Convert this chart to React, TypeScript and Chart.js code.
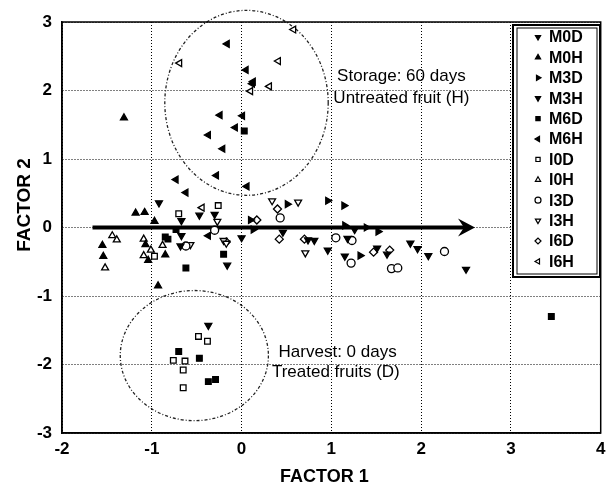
import { useEffect, useRef } from 'react';
import { Chart, registerables } from 'chart.js';
import { drawPoint } from 'chart.js/helpers';

Chart.register(...registerables);

const FONT = '"Liberation Sans", Arial, Helvetica, sans-serif';

// ---- data ----
const seriesNames = ['M0D', 'M0H', 'M3D', 'M3H', 'M6D', 'M6H', 'I0D', 'I0H', 'I3D', 'I3H', 'I6D', 'I6H'];

const M0D: number[][] = [[-0.92, 0.36], [-0.67, 0.10], [-0.67, -0.12], [-0.47, 0.18], [-0.30, 0.19], [-0.68, -0.27], [-0.16, -0.55], [-0.37, -1.43], [0.00, -0.15]];
const M0H: number[][] = [[-1.31, 1.60], [-0.97, 0.09], [-1.55, -0.26], [-1.54, -0.42], [-1.07, -0.25], [-0.85, -0.40], [-1.04, -0.48], [-0.93, -0.85], [-1.18, 0.21], [-1.08, 0.22]];
const M3D: number[][] = [[0.51, 0.34], [0.96, 0.39], [1.14, 0.32], [1.15, 0.03], [1.39, 0.00], [1.52, -0.06], [1.32, -0.41], [0.10, 0.11], [0.13, -0.03]];
const M3H: number[][] = [[1.18, -0.16], [0.96, -0.33], [1.15, -0.42], [1.51, -0.30], [1.62, -0.39], [1.88, -0.23], [1.96, -0.31], [2.08, -0.41], [2.50, -0.61], [0.74, -0.18], [0.81, -0.19], [0.46, -0.07], [1.26, -0.03]];
const M6D: number[][] = [[0.03, 1.41], [-0.85, -0.14], [-0.62, -0.59], [-0.20, -0.39], [-0.70, -1.81], [-0.47, -1.91], [-0.37, -2.25], [-0.29, -2.22], [3.45, -1.30], [-0.73, -0.03], [-0.82, -0.17]];
const M6H: number[][] = [[-0.16, 2.68], [0.05, 2.30], [0.13, 2.13], [0.12, 2.10], [-0.24, 1.64], [0.01, 1.63], [-0.07, 1.46], [-0.37, 1.35], [-0.21, 1.15], [-0.73, 0.70], [-0.62, 0.51], [-0.28, 0.76], [0.06, 0.60], [-0.37, -0.12]];
const I0D: number[][] = [[-0.70, 0.20], [-0.26, 0.32], [-0.97, -0.42], [-0.48, -1.59], [-0.38, -1.66], [-0.76, -1.94], [-0.63, -1.95], [-0.65, -2.08], [-0.65, -2.34]];
const I0H: number[][] = [[-1.44, -0.12], [-1.39, -0.18], [-1.52, -0.59], [-1.09, -0.17], [-0.88, -0.26], [-1.01, -0.33], [-1.09, -0.41]];
const I3D: number[][] = [[0.43, 0.14], [1.05, -0.15], [1.23, -0.19], [1.22, -0.52], [1.67, -0.60], [1.74, -0.59], [2.26, -0.35], [-0.62, -0.27], [-0.30, -0.04]];
const I3H: number[][] = [[-0.20, -0.19], [-0.17, -0.23], [0.34, 0.39], [0.63, 0.37], [0.71, -0.37], [-0.57, -0.25], [-0.27, 0.09]];
const I6D: number[][] = [[0.42, -0.17], [0.70, -0.17], [1.47, -0.36], [1.65, -0.33], [0.17, 0.11], [0.40, 0.27], [-0.17, -0.21]];
const I6H: number[][] = [[-0.69, 2.40], [0.58, 2.89], [0.41, 2.43], [0.31, 2.06], [0.10, 1.99], [-0.44, 0.29]];

const seriesValues = [M0D, M0H, M3D, M3H, M6D, M6H, I0D, I0H, I3D, I3H, I6D, I6H];

const xMin = -2, xMax = 4, yMin = -3, yMax = 3;
const xTitle = 'FACTOR 1';
const yTitle = 'FACTOR 2';

// annotation ellipses (data units): cx, cy, rx, ry
const ellipseTop = [0.055, 1.82, 0.91, 1.35];
const ellipseBottom = [-0.526, -1.87, 0.825, 0.95];
// arrow along factor 1
const arrowStart = [-1.66, 0];
const arrowEnd = [2.6, 0];
// notes: x, y, text
const noteTop = [[1.78, 2.20, 'Storage: 60 days'], [1.78, 1.88, 'Untreated fruit (H)']];
const noteBottom = [[1.07, -1.82, 'Harvest: 0 days'], [1.05, -2.12, 'Treated fruits (D)']];

// ---- styles ----
const markerStyles: { style: string; rot: number; filled: boolean }[] = [
  { style: 'triangle', rot: 180, filled: true },
  { style: 'triangle', rot: 0, filled: true },
  { style: 'triangle', rot: 90, filled: true },
  { style: 'triangle', rot: 180, filled: true },
  { style: 'rect', rot: 0, filled: true },
  { style: 'triangle', rot: 270, filled: true },
  { style: 'rect', rot: 0, filled: false },
  { style: 'triangle', rot: 0, filled: false },
  { style: 'circle', rot: 0, filled: false },
  { style: 'triangle', rot: 180, filled: false },
  { style: 'rectRot', rot: 0, filled: false },
  { style: 'triangle', rot: 270, filled: false },
];
const RADIUS = 4;

const overlay = {
  id: 'overlay',
  beforeDatasetsDraw(chart: any) {
    const { ctx, scales } = chart;
    const xs = scales.x, ys = scales.y;
    ctx.save();
    // ellipses
    ctx.strokeStyle = '#222';
    ctx.lineWidth = 1.3;
    ctx.setLineDash([3, 2, 1, 2]);
    for (const e of [ellipseTop, ellipseBottom]) {
      const cx = xs.getPixelForValue(e[0]);
      const cy = ys.getPixelForValue(e[1]);
      const rx = Math.abs(xs.getPixelForValue(e[0] + e[2]) - cx);
      const ry = Math.abs(ys.getPixelForValue(e[1] + e[3]) - cy);
      ctx.beginPath();
      ctx.ellipse(cx, cy, rx, ry, 0, 0, Math.PI * 2);
      ctx.stroke();
    }
    ctx.setLineDash([]);
    // arrow
    const x0 = xs.getPixelForValue(arrowStart[0]);
    const x1 = xs.getPixelForValue(arrowEnd[0]);
    const y0 = ys.getPixelForValue(arrowStart[1]);
    ctx.strokeStyle = '#000';
    ctx.lineWidth = 4;
    ctx.beginPath();
    ctx.moveTo(x0, y0);
    ctx.lineTo(x1 - 8, y0);
    ctx.stroke();
    ctx.fillStyle = '#000';
    ctx.beginPath();
    ctx.moveTo(x1, y0);
    ctx.lineTo(x1 - 17, y0 - 9);
    ctx.lineTo(x1 - 11, y0);
    ctx.lineTo(x1 - 17, y0 + 9);
    ctx.closePath();
    ctx.fill();
    // notes
    ctx.fillStyle = '#000';
    ctx.font = `17px ${FONT}`;
    ctx.textAlign = 'center';
    ctx.textBaseline = 'middle';
    for (const n of [...noteTop, ...noteBottom]) {
      ctx.fillText(n[2] as string, xs.getPixelForValue(n[0] as number), ys.getPixelForValue(n[1] as number));
    }
    ctx.restore();
  },
  afterDraw(chart: any) {
    const { ctx, chartArea } = chart;
    ctx.save();
    // frame
    ctx.strokeStyle = '#000';
    ctx.lineWidth = 1.5;
    ctx.strokeRect(chartArea.left, chartArea.top, chartArea.right - chartArea.left, chartArea.bottom - chartArea.top);
    // legend
    const lx = 513, ly = 25, lw = 87, lh = 252;
    ctx.fillStyle = '#fff';
    ctx.fillRect(lx, ly, lw, lh);
    ctx.lineWidth = 2;
    ctx.strokeRect(lx, ly, lw, lh);
    ctx.lineWidth = 1;
    ctx.strokeRect(lx + 4, ly + 3, lw - 7, lh - 6);
    ctx.font = `bold 16px ${FONT}`;
    ctx.textAlign = 'left';
    ctx.textBaseline = 'middle';
    seriesNames.forEach((name, i) => {
      const y = 37 + i * 20.4;
      const m = markerStyles[i];
      ctx.fillStyle = m.filled ? '#000' : '#fff';
      ctx.strokeStyle = '#000';
      ctx.lineWidth = 1.2;
      drawPoint(ctx, { pointStyle: m.style, rotation: m.rot, radius: 3, borderWidth: 1.2 } as any, 538, y);
      ctx.fillStyle = '#000';
      ctx.fillText(name, 549, y + 1);
    });
    // axis titles
    ctx.fillStyle = '#000';
    ctx.font = `bold 18px ${FONT}`;
    ctx.textAlign = 'center';
    ctx.textBaseline = 'middle';
    ctx.fillText(xTitle, (chartArea.left + chartArea.right) / 2 - 7, 477);
    ctx.translate(25, 205);
    ctx.rotate(-Math.PI / 2);
    ctx.font = `bold 19px ${FONT}`;
    ctx.fillText(yTitle, 0, 0);
    ctx.restore();
  },
};

export default function App() {
  const ref = useRef<HTMLCanvasElement>(null);
  useEffect(() => {
    if (!ref.current) return;
    const datasets = seriesNames.map((name, i) => {
      const m = markerStyles[i];
      return {
        label: name,
        data: seriesValues[i].map((p) => ({ x: p[0], y: p[1] })),
        pointStyle: m.style as any,
        pointRotation: m.rot,
        pointRadius: RADIUS,
        pointHoverRadius: RADIUS,
        borderWidth: 1.3,
        borderColor: '#000',
        backgroundColor: m.filled ? '#000' : '#fff',
      };
    });
    const tickFont = { family: FONT, size: 17, weight: 'bold' as const };
    const chart = new Chart(ref.current, {
      type: 'scatter',
      data: { datasets },
      plugins: [overlay],
      options: {
        animation: false,
        responsive: false,
        maintainAspectRatio: false,
        layout: { padding: { left: 0, right: 1, top: 22, bottom: 0 } },
        plugins: { legend: { display: false }, tooltip: { enabled: false } },
        scales: {
          x: {
            type: 'linear',
            min: xMin,
            max: xMax,
            afterFit: (s: any) => { s.height = 57; s.paddingRight = 0; s.paddingLeft = 0; },
            ticks: { stepSize: 1, color: '#000', font: tickFont, padding: 6 },
            grid: { color: '#000', lineWidth: 1, drawTicks: false },
            border: { display: true, color: '#000', width: 1.5, dash: [1, 2] },
          },
          y: {
            type: 'linear',
            min: yMin,
            max: yMax,
            afterFit: (s: any) => { s.width = 62; s.paddingTop = 0; s.paddingBottom = 0; },
            ticks: { stepSize: 1, color: '#000', font: tickFont, padding: 10 },
            grid: { color: '#000', lineWidth: 1, drawTicks: false },
            border: { display: true, color: '#000', width: 1.5, dash: [1, 2] },
          },
        },
      },
    });
    return () => chart.destroy();
  }, []);
  return (
    <div style={{ position: 'fixed', left: 0, top: 0, width: 606, height: 490, background: '#fff' }}>
      <canvas ref={ref} width={606} height={490} />
    </div>
  );
}
